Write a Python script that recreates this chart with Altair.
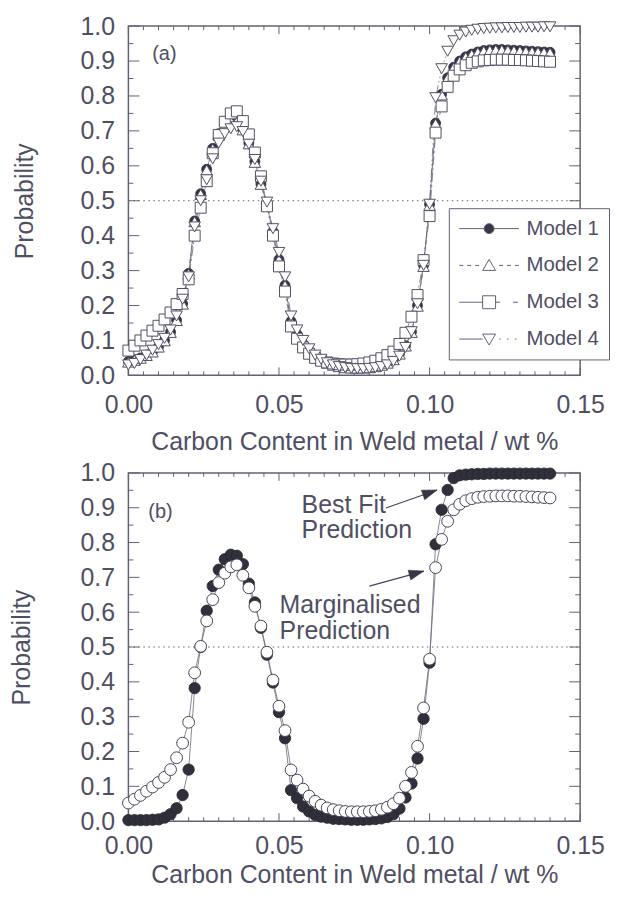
import math
import altair as alt
import pandas as pd

# ---------------- data ----------------
carbon = [0.000, 0.002, 0.004, 0.006, 0.008, 0.010, 0.012, 0.014, 0.016, 0.018,
          0.020, 0.022, 0.024, 0.026, 0.028, 0.030, 0.032, 0.034, 0.036, 0.038,
          0.040, 0.042, 0.044, 0.046, 0.048, 0.050, 0.052, 0.054, 0.056, 0.058,
          0.060, 0.062, 0.064, 0.066, 0.068, 0.070, 0.072, 0.074, 0.076, 0.078,
          0.080, 0.082, 0.084, 0.086, 0.088, 0.090, 0.092, 0.094, 0.096, 0.098,
          0.100, 0.102, 0.104, 0.106, 0.108, 0.110, 0.112, 0.114, 0.116, 0.118,
          0.120, 0.122, 0.124, 0.126, 0.128, 0.130, 0.132, 0.134, 0.136, 0.138, 0.140]

model1 = [0.040, 0.044, 0.050, 0.058, 0.068, 0.082, 0.100, 0.124, 0.158, 0.205,
          0.292, 0.442, 0.520, 0.590, 0.650, 0.692, 0.718, 0.730, 0.728, 0.705,
          0.665, 0.612, 0.548, 0.488, 0.412, 0.332, 0.258, 0.155, 0.118, 0.090,
          0.070, 0.055, 0.044, 0.036, 0.030, 0.026, 0.023, 0.022, 0.022, 0.022,
          0.023, 0.026, 0.030, 0.036, 0.046, 0.062, 0.085, 0.125, 0.200, 0.315,
          0.490, 0.722, 0.805, 0.852, 0.882, 0.900, 0.912, 0.920, 0.926, 0.930,
          0.932, 0.933, 0.933, 0.932, 0.931, 0.930, 0.929, 0.928, 0.927, 0.926, 0.925]

model2 = [0.038, 0.043, 0.049, 0.057, 0.067, 0.081, 0.099, 0.123, 0.157, 0.204,
          0.290, 0.440, 0.518, 0.588, 0.648, 0.690, 0.716, 0.728, 0.726, 0.703,
          0.663, 0.610, 0.547, 0.487, 0.411, 0.331, 0.257, 0.154, 0.117, 0.089,
          0.069, 0.054, 0.043, 0.035, 0.029, 0.025, 0.022, 0.021, 0.021, 0.021,
          0.022, 0.025, 0.029, 0.035, 0.045, 0.061, 0.084, 0.123, 0.198, 0.312,
          0.487, 0.720, 0.803, 0.850, 0.880, 0.898, 0.910, 0.918, 0.924, 0.928,
          0.930, 0.931, 0.931, 0.930, 0.929, 0.928, 0.927, 0.926, 0.925, 0.924, 0.923]

model3 = [0.071, 0.085, 0.100, 0.114, 0.128, 0.142, 0.160, 0.180, 0.204, 0.233,
          0.275, 0.400, 0.480, 0.556, 0.636, 0.688, 0.726, 0.750, 0.756, 0.728,
          0.690, 0.638, 0.570, 0.484, 0.400, 0.312, 0.240, 0.140, 0.105, 0.080,
          0.062, 0.050, 0.042, 0.037, 0.034, 0.032, 0.031, 0.031, 0.032, 0.034,
          0.037, 0.042, 0.049, 0.058, 0.068, 0.090, 0.122, 0.168, 0.230, 0.330,
          0.456, 0.695, 0.770, 0.826, 0.858, 0.876, 0.888, 0.895, 0.899, 0.902,
          0.903, 0.904, 0.904, 0.904, 0.903, 0.903, 0.902, 0.901, 0.900, 0.899, 0.898]

model4 = [0.030, 0.034, 0.045, 0.058, 0.072, 0.088, 0.106, 0.130, 0.170, 0.218,
          0.282, 0.425, 0.500, 0.560, 0.620, 0.665, 0.692, 0.706, 0.712, 0.698,
          0.662, 0.618, 0.556, 0.496, 0.420, 0.352, 0.282, 0.170, 0.130, 0.100,
          0.076, 0.058, 0.046, 0.036, 0.030, 0.025, 0.022, 0.020, 0.019, 0.019,
          0.020, 0.022, 0.025, 0.030, 0.040, 0.055, 0.080, 0.125, 0.205, 0.315,
          0.490, 0.795, 0.878, 0.928, 0.958, 0.974, 0.983, 0.988, 0.991, 0.993,
          0.994, 0.995, 0.995, 0.996, 0.996, 0.996, 0.997, 0.997, 0.997, 0.998, 0.998]

best_fit = [0.003, 0.003, 0.003, 0.003, 0.004, 0.005, 0.010, 0.020, 0.037, 0.075,
            0.148, 0.382, 0.500, 0.604, 0.675, 0.722, 0.752, 0.765, 0.762, 0.738,
            0.682, 0.628, 0.555, 0.478, 0.398, 0.313, 0.238, 0.089, 0.066, 0.042,
            0.028, 0.018, 0.013, 0.010, 0.007, 0.006, 0.005, 0.004, 0.004, 0.004,
            0.005, 0.006, 0.008, 0.012, 0.020, 0.036, 0.068, 0.108, 0.180, 0.294,
            0.455, 0.795, 0.894, 0.951, 0.985, 0.993, 0.995, 0.996, 0.997, 0.997,
            0.998, 0.998, 0.998, 0.998, 0.998, 0.998, 0.998, 0.998, 0.998, 0.998, 0.998]

marginalised = [0.052, 0.063, 0.074, 0.086, 0.098, 0.111, 0.126, 0.148, 0.182, 0.224,
                0.284, 0.426, 0.502, 0.575, 0.636, 0.685, 0.712, 0.730, 0.736, 0.706,
                0.670, 0.617, 0.560, 0.485, 0.405, 0.330, 0.260, 0.147, 0.118, 0.092,
                0.072, 0.057, 0.046, 0.038, 0.033, 0.030, 0.028, 0.027, 0.027, 0.027,
                0.028, 0.030, 0.034, 0.040, 0.050, 0.066, 0.100, 0.140, 0.215, 0.325,
                0.465, 0.728, 0.809, 0.861, 0.894, 0.910, 0.920, 0.926, 0.930, 0.932,
                0.933, 0.934, 0.934, 0.934, 0.933, 0.933, 0.932, 0.931, 0.930, 0.929, 0.928]

model_names = ["Model 1", "Model 2", "Model 3", "Model 4"]
x_major_ticks = [0.00, 0.05, 0.10, 0.15]
x_minor_ticks = [0.005, 0.010, 0.015, 0.020, 0.025, 0.030, 0.035, 0.040, 0.045,
                 0.055, 0.060, 0.065, 0.070, 0.075, 0.080, 0.085, 0.090, 0.095,
                 0.105, 0.110, 0.115, 0.120, 0.125, 0.130, 0.135, 0.140, 0.145]
y_major_ticks = [0.0, 0.1, 0.2, 0.3, 0.4, 0.5, 0.6, 0.7, 0.8, 0.9, 1.0]
y_minor_ticks = [0.05, 0.15, 0.25, 0.35, 0.45, 0.55, 0.65, 0.75, 0.85, 0.95]
threshold = 0.5
x_title = "Carbon Content in Weld metal / wt %"
y_title = "Probability"

# annotations (data coordinates of panel b)
note_text = ["Best Fit\nPrediction", "Marginalised\nPrediction"]
note_x = [0.0575, 0.0502]
note_y = [0.886, 0.597]
arrow_tail_x = [0.0855, 0.0800]
arrow_tail_y = [0.899, 0.675]
arrow_tip_x = [0.1025, 0.0981]
arrow_tip_y = [0.951, 0.718]

# ---------------- styling ----------------
FONT = "Liberation Sans"
TEXT = "#4f4f63"
FRAME = "#626276"
DARK = "#363644"
LINE = "#6a6a7c"
W = 454
HA = 351
HB = 350
XMAX = 0.15
FS = 25

x_scale = alt.Scale(domain=[0, XMAX], nice=False, zero=False)
y_scale = alt.Scale(domain=[0, 1], nice=False, zero=False)


def x_axis(lp, tp):
    return alt.Axis(values=x_major_ticks, format=".2f", ticks=False, domain=False, grid=False,
                    labelPadding=lp, titlePadding=tp, labelFontSize=FS, titleFontSize=FS,
                    labelColor=TEXT, titleColor=TEXT, titleFontWeight="normal",
                    labelFlush=False, labelOverlap=False, labelFont=FONT, titleFont=FONT)


def y_axis(tp):
    return alt.Axis(values=y_major_ticks, format=".1f", ticks=False, domain=False, grid=False,
                    labelPadding=14, titlePadding=tp, labelFontSize=FS, titleFontSize=FS,
                    labelColor=TEXT, titleColor=TEXT, titleFontWeight="normal",
                    labelOverlap=False, labelFont=FONT, titleFont=FONT)


class Panel:
    def __init__(self, H, xlp, xtp, ytp):
        self.H = H
        self.xax = x_axis(xlp, xtp)
        self.yax = y_axis(ytp)

    def X(self, field):
        return alt.X(f"{field}:Q", scale=x_scale, axis=self.xax, title=x_title)

    def Y(self, field):
        return alt.Y(f"{field}:Q", scale=y_scale, axis=self.yax, title=y_title)

    def ticks(self):
        rows = []
        for t in x_major_ticks + x_minor_ticks:
            L = (8 if t in x_major_ticks else 4) / self.H
            rows.append({"x": t, "y": 0.0, "x2": t, "y2": L})
            rows.append({"x": t, "y": 1.0, "x2": t, "y2": 1.0 - L})
        for t in y_major_ticks + y_minor_ticks:
            L = (11 if t in y_major_ticks else 5) / W * XMAX
            rows.append({"x": 0.0, "y": t, "x2": L, "y2": t})
            rows.append({"x": XMAX, "y": t, "x2": XMAX - L, "y2": t})
        df = pd.DataFrame(rows)
        return alt.Chart(df).mark_rule(color=FRAME, strokeWidth=1).encode(
            x=self.X("x"), y=self.Y("y"), x2="x2:Q", y2="y2:Q")

    def threshold(self):
        df = pd.DataFrame({"x": [0.0], "x2": [XMAX], "y": [threshold]})
        return alt.Chart(df).mark_rule(color=FRAME, strokeWidth=1, strokeDash=[1.5, 3.5]).encode(
            x=self.X("x"), x2="x2:Q", y=self.Y("y"))

    def label(self, text, x, y):
        df = pd.DataFrame({"x": [x], "y": [y], "t": [text]})
        return alt.Chart(df).mark_text(align="left", baseline="middle", fontSize=20, font=FONT,
                                       color=TEXT).encode(x=self.X("x"), y=self.Y("y"), text="t:N")


def long_df(series):
    rows = []
    for name, vals in series.items():
        for c, v in zip(carbon, vals):
            rows.append({"carbon": c, "prob": v, "series": name})
    return pd.DataFrame(rows)


# ---------------- panel (a) ----------------
pa = Panel(HA, 17, 13, 43)
df_a = long_df({"Model 1": model1, "Model 2": model2, "Model 3": model3, "Model 4": model4})
dashes = {"Model 1": [1, 0], "Model 2": [4, 3], "Model 3": [9, 3, 2, 3], "Model 4": [9, 3, 1.5, 3, 1.5, 3]}

lines_a = [
    alt.Chart(df_a).transform_filter(alt.datum.series == m).mark_line(
        color=LINE, strokeWidth=0.8, strokeDash=dashes[m]).encode(x=pa.X("carbon"), y=pa.Y("prob"))
    for m in model_names
]

point_styles = {
    "Model 1": dict(shape="circle", size=100, fill=DARK, stroke="#2e2e3a", strokeWidth=0.8),
    "Model 2": dict(shape="triangle-up", size=135, fill="white", stroke="#505064", strokeWidth=1),
    "Model 3": dict(shape="square", size=121, fill="white", stroke="#505064", strokeWidth=1),
    "Model 4": dict(shape="triangle-down", size=135, fill="white", stroke="#505064", strokeWidth=1),
}
points_a = [
    alt.Chart(df_a).transform_filter(alt.datum.series == m).mark_point(
        filled=True, opacity=1, **point_styles[m]).encode(x=pa.X("carbon"), y=pa.Y("prob"))
    for m in model_names
]

# legend symbols: line sample + marker (unit = 10 px)
legend_paths = [
    "M-3,0L-0.5,0M0.5,0L3,0M0.5,0A0.5,0.5,0,1,1,-0.5,0A0.5,0.5,0,1,1,0.5,0Z",
    "M-3,0L-2.6,0M-2.2,0L-1.8,0M-1.4,0L-1,0M1,0L1.4,0M1.8,0L2.2,0M2.6,0L3,0"
    "M0,-0.6L0.65,0.5L-0.65,0.5Z",
    "M-3,0L-0.65,0M0.65,0L1.1,0M2.4,0L2.9,0M-0.65,-0.65L0.65,-0.65L0.65,0.65L-0.65,0.65Z",
    "M-3,0L-0.65,0M1,0L1.15,0M1.8,0L1.95,0M2.6,0L2.75,0M-0.65,-0.5L0.65,-0.5L0,0.6Z",
]
leg = alt.Legend(orient="none", legendX=322, legendY=183, padding=10, rowPadding=16,
                 labelFontSize=20.5, labelFont=FONT, labelColor=TEXT, labelOffset=27,
                 symbolOffset=20, strokeColor=FRAME, fillColor="white", symbolSize=400,
                 symbolStrokeWidth=1, symbolStrokeColor=FRAME, title=None)
legend_layer = alt.Chart(df_a).transform_filter("false").mark_point(
    size=400, filled=True, opacity=1, stroke=FRAME, strokeWidth=1).encode(
    x=pa.X("carbon"), y=pa.Y("prob"),
    shape=alt.Shape("series:N", scale=alt.Scale(domain=model_names, range=legend_paths), legend=leg),
    fill=alt.Fill("series:N", scale=alt.Scale(domain=model_names, range=[DARK, "white", "white", "white"]),
                  legend=leg),
    stroke=alt.Stroke("series:N", scale=alt.Scale(domain=model_names, range=[FRAME, FRAME, FRAME, FRAME]),
                      legend=leg),
)

panel_a = alt.layer(
    pa.threshold(), pa.ticks(), *lines_a, *points_a,
    pa.label("(a)", 0.0079, 0.921), legend_layer
).properties(width=W, height=HA)

# ---------------- panel (b) ----------------
pb = Panel(HB, 13, 4, 46)
df_b = long_df({"Best Fit": best_fit, "Marginalised": marginalised})
lines_b = [
    alt.Chart(df_b).transform_filter(alt.datum.series == s).mark_line(
        color=LINE, strokeWidth=0.8).encode(x=pb.X("carbon"), y=pb.Y("prob"))
    for s in ["Best Fit", "Marginalised"]
]
pts_best = alt.Chart(df_b).transform_filter(alt.datum.series == "Best Fit").mark_point(
    shape="circle", size=130, filled=True, opacity=1, fill="#30303c", stroke="#26262f",
    strokeWidth=0.8).encode(x=pb.X("carbon"), y=pb.Y("prob"))
pts_marg = alt.Chart(df_b).transform_filter(alt.datum.series == "Marginalised").mark_point(
    shape="circle", size=140, filled=True, opacity=1, fill="white", stroke="#46465a",
    strokeWidth=1).encode(x=pb.X("carbon"), y=pb.Y("prob"))

notes = pd.DataFrame({"x": note_x, "y": note_y, "t": note_text})
notes_layer = alt.Chart(notes).mark_text(align="left", baseline="alphabetic", fontSize=FS, font=FONT,
                                         color=TEXT, lineBreak="\n", lineHeight=26).encode(
    x=pb.X("x"), y=pb.Y("y"), text="t:N")

ang = []
for tx, ty, hx, hy in zip(arrow_tail_x, arrow_tail_y, arrow_tip_x, arrow_tip_y):
    dx = (hx - tx) * W / XMAX
    dy = -(hy - ty) * HB
    ang.append((math.degrees(math.atan2(dx, -dy)) + 360) % 360)
arrows = pd.DataFrame({"x": arrow_tail_x, "y": arrow_tail_y, "x2": arrow_tip_x, "y2": arrow_tip_y,
                       "angle": ang})
arrow_lines = alt.Chart(arrows).mark_rule(color="#46465a", strokeWidth=1.2).encode(
    x=pb.X("x"), y=pb.Y("y"), x2="x2:Q", y2="y2:Q")
arrow_heads = alt.Chart(arrows).mark_point(
    shape="M0,0L0.34,1L-0.34,1Z", size=900, filled=True, opacity=1, fill="#363644",
    stroke="#363644", strokeWidth=0.5).encode(
    x=pb.X("x2"), y=pb.Y("y2"), angle=alt.Angle("angle:Q", scale=None))

panel_b = alt.layer(
    pb.threshold(), pb.ticks(), *lines_b, pts_best, pts_marg,
    notes_layer, arrow_lines, arrow_heads, pb.label("(b)", 0.0066, 0.889)
).properties(width=W, height=HB)

chart = alt.vconcat(panel_a, panel_b, spacing=4).properties(
    padding={"left": 0, "top": 3, "right": 0, "bottom": 0}
).configure(font=FONT).configure_view(stroke=FRAME, strokeWidth=1.5)

chart.save("out.html", embed_options={"renderer": "svg", "actions": False})
